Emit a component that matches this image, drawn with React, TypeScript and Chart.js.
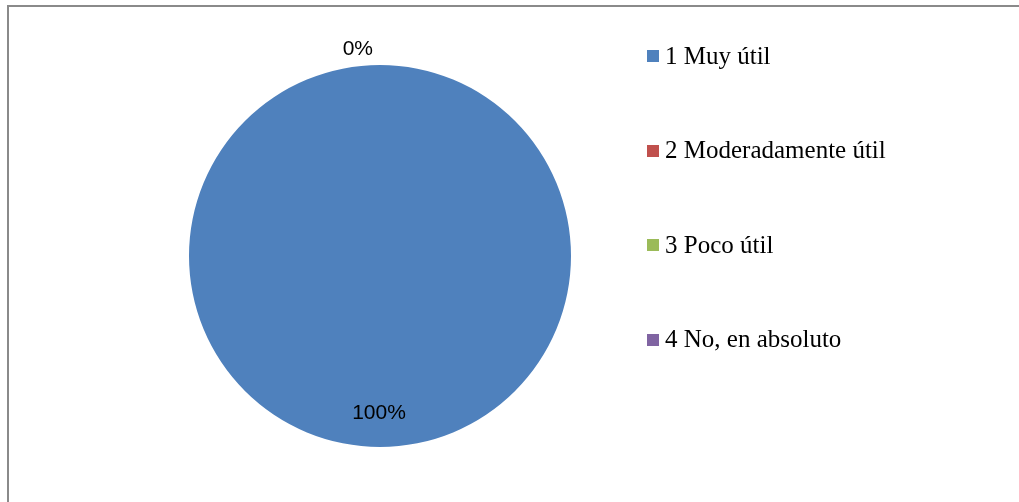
import React, { useEffect, useRef } from "react";
import { Chart, registerables } from "chart.js";

Chart.register(...registerables);

const categories = ["1 Muy útil", "2 Moderadamente útil", "3 Poco útil", "4 No, en absoluto"];
const values = [100, 0, 0, 0];
const percentLabels = ["100%", "0%", "0%", "0%"];
const colors = ["#4F81BD", "#C0504D", "#9BBB59", "#8064A2"];

const labelPlugin = {
  id: "pieLabels",
  afterDatasetsDraw(chart: any) {
    const ctx = chart.ctx;
    const meta = chart.getDatasetMeta(0);
    ctx.save();
    ctx.font = "21px 'Liberation Sans', Arial, sans-serif";
    ctx.fillStyle = "#000000";
    ctx.textBaseline = "middle";
    let zeroDrawn = false;
    meta.data.forEach((arc: any, i: number) => {
      const p = arc.getProps(["x", "y", "startAngle", "endAngle", "outerRadius"], true);
      const mid = (p.startAngle + p.endAngle) / 2;
      if (values[i] > 0) {
        const r = p.outerRadius * 0.825;
        ctx.textAlign = "center";
        ctx.fillText(percentLabels[i], p.x + Math.cos(mid) * r - 1, p.y + Math.sin(mid) * r);
      } else if (!zeroDrawn) {
        zeroDrawn = true;
        const r = p.outerRadius + 16;
        ctx.textAlign = "right";
        ctx.fillText(percentLabels[i], p.x + Math.cos(mid) * r - 7, p.y + Math.sin(mid) * r);
      }
    });
    ctx.restore();
  },
};

const legendPlugin = {
  id: "sideLegend",
  afterDraw(chart: any) {
    const ctx = chart.ctx;
    ctx.save();
    ctx.font = "25px 'Liberation Serif', 'Times New Roman', serif";
    ctx.textBaseline = "middle";
    ctx.textAlign = "left";
    const startY = 56;
    const step = 94.5;
    categories.forEach((c, i) => {
      const y = startY + i * step;
      ctx.fillStyle = colors[i];
      ctx.fillRect(647, Math.round(y - 6), 12, 12);
      ctx.fillStyle = "#000000";
      ctx.fillText(c, 665, y + 1);
    });
    ctx.restore();
  },
};

export default function App() {
  const ref = useRef<HTMLCanvasElement | null>(null);
  useEffect(() => {
    if (!ref.current) return;
    const chart = new Chart(ref.current, {
      type: "pie",
      data: {
        labels: categories,
        datasets: [
          {
            data: values,
            backgroundColor: colors,
            borderWidth: 0,
          },
        ],
      },
      options: {
        animation: false,
        responsive: false,
        maintainAspectRatio: false,
        layout: { padding: { left: 189, right: 448, top: 65, bottom: 55 } },
        plugins: {
          legend: { display: false },
          tooltip: { enabled: false },
        },
      },
      plugins: [labelPlugin, legendPlugin],
    });
    return () => chart.destroy();
  }, []);

  return (
    <div style={{ position: "fixed", left: 0, top: 0, width: 1019, height: 502, background: "#fff", overflow: "hidden" }}>
      <div
        style={{
          position: "absolute",
          left: 7,
          top: 5,
          width: 1100,
          height: 600,
          borderLeft: "2px solid #8a8a8a",
          borderTop: "2px solid #8a8a8a",
        }}
      />
      <canvas ref={ref} width={1019} height={502} style={{ position: "absolute", left: 0, top: 0 }} />
    </div>
  );
}
